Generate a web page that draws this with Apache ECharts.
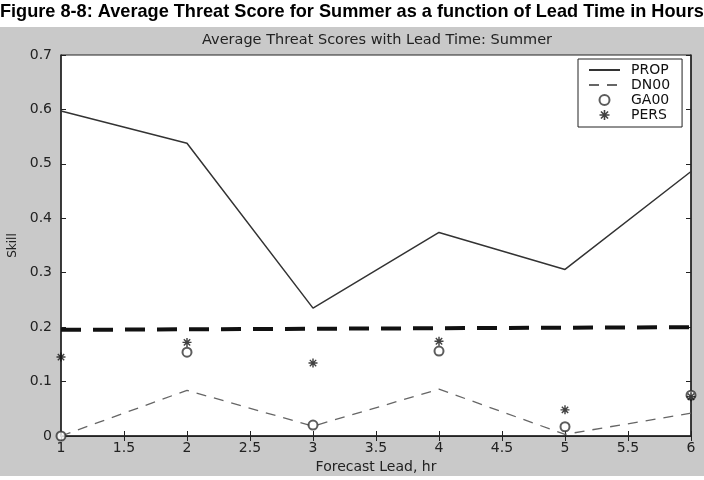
<!DOCTYPE html>
<html><head><meta charset="utf-8">
<script src="https://cdn.jsdelivr.net/npm/echarts@6/dist/echarts.min.js"></script>
<style>html,body{margin:0;padding:0;background:#fff}#c{width:704px;height:480px}</style>
</head><body><div id="c"></div>
<script>
const leadHours = [1, 2, 3, 4, 5, 6];
const propValues = [0.597, 0.538, 0.235, 0.374, 0.306, 0.486];
const dn00Values = [0.0, 0.084, 0.018, 0.086, 0.003, 0.042];
const ga00Values = [0.0, 0.154, 0.02, 0.156, 0.017, 0.075];
const persValues = [0.145, 0.172, 0.134, 0.174, 0.048, 0.072];
const refLineX = [1, 6];
const refLineValues = [0.195, 0.2];
const seriesNames = ['PROP', 'DN00', 'GA00', 'PERS'];

const pair = (xs, ys) => xs.map((x, i) => [x, ys[i]]);
const star = 'path://M-0.8,-5L0.8,-5L0.8,5L-0.8,5Z M-5,-0.8L5,-0.8L5,0.8L-5,0.8Z M-4.1,-3L-3,-4.1L4.1,3L3,4.1Z M3,-4.1L4.1,-3L-3,4.1L-4.1,3Z';
const font = 'DejaVu Sans, sans-serif';

const chart = echarts.init(document.getElementById('c'), null, {renderer: 'canvas'});
chart.setOption({
  animation: false,
  backgroundColor: '#ffffff',
  graphic: [
    {type: 'rect', shape: {x: 0, y: 27, width: 704, height: 449}, style: {fill: '#c9c9c9'}, z: -10},
    {type: 'text', x: 0, y: 2, scaleX: 0.955, style: {text: 'Figure 8-8: Average Threat Score for Summer as a function of Lead Time in Hours',
      font: 'bold 19px "Liberation Sans", Arial, sans-serif', fill: '#000'}}
  ],
  title: [
    {text: 'Average Threat Scores with Lead Time: Summer', left: 377, top: 33, padding: 0, textAlign: 'center',
     textStyle: {fontFamily: font, fontWeight: 'normal', fontSize: 14.5, color: '#222'}}
  ],
  legend: {
    data: [
      {name: 'PROP', itemStyle: {opacity: 0}},
      {name: 'DN00', itemStyle: {opacity: 0}},
      {name: 'GA00'},
      {name: 'PERS'}
    ],
    orient: 'vertical', left: 578, top: 59, itemWidth: 31, itemHeight: 10, itemGap: 1,
    padding: [4, 12, 5, 10], backgroundColor: '#fff', borderColor: '#222', borderWidth: 1,
    textStyle: {fontFamily: font, fontSize: 14, color: '#111', padding: [0, 0, 0, 6]}
  },
  grid: {left: 61, right: 13, top: 55, bottom: 44, containLabel: false, outerBoundsMode: 'none',
    show: true, backgroundColor: '#fff', borderColor: '#222', borderWidth: 1},
  xAxis: [
    {type: 'value', min: 1, max: 6, interval: 0.5, name: 'Forecast Lead, hr', nameLocation: 'middle', nameGap: 21,
     nameTextStyle: {fontFamily: font, fontSize: 14, color: '#222'},
     axisLine: {lineStyle: {color: '#222', width: 1.5}}, axisTick: {inside: true, length: 5, lineStyle: {color: '#222'}},
     axisLabel: {fontFamily: font, fontSize: 14, color: '#222', margin: 5}, splitLine: {show: false}},
    {type: 'value', position: 'top', min: 1, max: 6, interval: 0.5,
     axisLine: {lineStyle: {color: '#222'}}, axisTick: {inside: true, length: 5, lineStyle: {color: '#222'}},
     axisLabel: {show: false}, splitLine: {show: false}}
  ],
  yAxis: [
    {type: 'value', min: 0, max: 0.7, interval: 0.1, name: 'Skill', nameLocation: 'middle', nameGap: 39, nameRotate: 90,
     nameTextStyle: {fontFamily: font, fontSize: 12, color: '#222'},
     axisLine: {show: true, lineStyle: {color: '#222', width: 1.5}}, axisTick: {show: true, inside: true, length: 5, lineStyle: {color: '#222'}},
     axisLabel: {fontFamily: font, fontSize: 14, color: '#222', margin: 9}, splitLine: {show: false}},
    {type: 'value', position: 'right', min: 0, max: 0.7, interval: 0.1,
     axisLine: {show: true, lineStyle: {color: '#222', width: 1.5}}, axisTick: {show: true, inside: true, length: 5, lineStyle: {color: '#222'}},
     axisLabel: {show: false}, splitLine: {show: false}}
  ],
  series: [
    {name: 'PROP', type: 'line', data: pair(leadHours, propValues), symbol: 'none',
     lineStyle: {color: '#333', width: 1.5}, itemStyle: {color: '#333'}, z: 3},
    {name: 'DN00', type: 'line', data: pair(leadHours, dn00Values), symbol: 'none',
     lineStyle: {color: '#666', width: 1.3, type: [10, 8]}, itemStyle: {color: '#666'}, z: 2},
    {name: 'GA00', type: 'scatter', data: pair(leadHours, ga00Values), symbol: 'emptyCircle', symbolSize: 9,
     itemStyle: {color: '#333', borderWidth: 1.2}, z: 4},
    {name: 'PERS', type: 'scatter', data: pair(leadHours, persValues), symbol: star, symbolSize: 9,
     itemStyle: {color: '#111'}, z: 5},
    {name: 'ref', type: 'line', data: pair(refLineX, refLineValues), symbol: 'none',
     lineStyle: {color: '#111', width: 4, type: [20, 12]}, z: 2}
  ]
});
</script></body></html>
